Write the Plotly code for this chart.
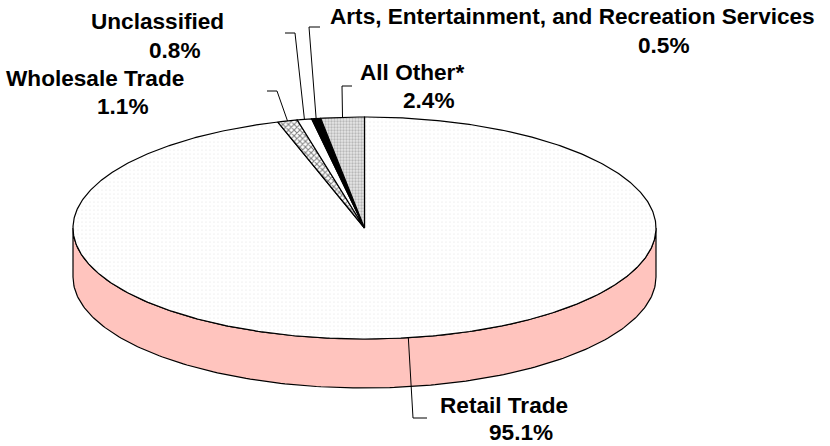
import numpy as np
import plotly.graph_objects as go

# ---- data ----
categories = ["Retail Trade", "Wholesale Trade", "Unclassified",
              "Arts, Entertainment, and Recreation Services", "All Other*"]
shares = [95.1, 1.1, 0.8, 0.5, 2.4]

# ---- styles ----
top_colors = ["#FFFFFF", "#FFFFFF", "#FFFFFF", "#000000", "#FFFFFF"]
side_colors = ["#FFC4BE", "#888888", "#EEEEEE", "#000000", "#BBBBBB"]
patterns = [
    dict(shape=".", fgcolor="#E2E2E2", bgcolor="#FFFFFF", size=4, solidity=0.15),
    dict(shape="x", fgcolor="#000000", bgcolor="#FFFFFF", size=4, solidity=0.45),
    None,
    None,
    dict(shape=".", fgcolor="#8A8A8A", bgcolor="#E6E6E6", size=3, solidity=0.45),
]

# pie geometry (pixels)
CX, CY, RX, RY, DEPTH = 364.5, 228.0, 291.5, 111.0, 49.0
W, H = 830, 446

# label layout: (line1 center x, line1 y, line2 center x, line2 y)
label_pos = [
    (504, 405, 521, 432),
    (95, 78, 123, 106),
    (157, 21, 175, 50),
    (572, 16, 664, 45),
    (412, 72, 429, 100),
]
# leader line elbow and end points
leader_elbow = [(413, 418), (277, 91), (295, 33), (309, 27), (342, 86)]
leader_end = [(427, 418), (267, 91), (285, 33), (320, 27), (352, 86)]

total = sum(shares)
fracs = [s / total for s in shares]
starts = np.concatenate([[0.0], np.cumsum(fracs)[:-1]]) * 2 * np.pi
ends = np.cumsum(fracs) * 2 * np.pi


def pt(t, dy=0.0):
    return CX + RX * np.sin(t), CY - RY * np.cos(t) + dy


fig = go.Figure()

# side walls (front half only)
for i in range(len(shares)):
    a0 = max(starts[i], np.pi / 2)
    a1 = min(ends[i], 3 * np.pi / 2)
    if a1 <= a0:
        continue
    t = np.linspace(a0, a1, 200)
    xt, yt = pt(t)
    xb, yb = pt(t[::-1], DEPTH)
    xs = np.concatenate([xt, xb, xt[:1]])
    ys = np.concatenate([yt, yb, yt[:1]])
    fig.add_trace(go.Scatter(x=xs, y=ys, mode="lines", fill="toself",
                             fillcolor=side_colors[i],
                             line=dict(color="#000000", width=1.2),
                             hoverinfo="skip", showlegend=False))

# top faces
for i in range(len(shares)):
    n = max(int(fracs[i] * 720), 4)
    t = np.linspace(starts[i], ends[i], n)
    xa, ya = pt(t)
    xs = np.concatenate([[CX], xa, [CX]])
    ys = np.concatenate([[CY], ya, [CY]])
    kw = {}
    if patterns[i] is not None:
        kw["fillpattern"] = patterns[i]
    fig.add_trace(go.Scatter(x=xs, y=ys, mode="lines", fill="toself",
                             fillcolor=top_colors[i],
                             line=dict(color="#000000", width=1.2),
                             hoverinfo="skip", showlegend=False, **kw))

# leader lines
for i in range(len(shares)):
    mid = (starts[i] + ends[i]) / 2
    px, py = pt(mid)
    ex, ey = leader_elbow[i]
    fx, fy = leader_end[i]
    fig.add_trace(go.Scatter(x=[px, ex, fx], y=[py, ey, fy], mode="lines",
                             line=dict(color="#000000", width=1),
                             hoverinfo="skip", showlegend=False))

font = dict(family="Liberation Sans, Arial, sans-serif", size=22.6, color="#000000")
for i, cat in enumerate(categories):
    x1, y1, x2, y2 = label_pos[i]
    fig.add_annotation(x=x1, y=y1, xref="x", yref="y", text=f"<b>{cat}</b>",
                       showarrow=False, font=font, xanchor="center", yanchor="middle")
    fig.add_annotation(x=x2, y=y2, xref="x", yref="y", text=f"<b>{shares[i]:.1f}%</b>",
                       showarrow=False, font=font, xanchor="center", yanchor="middle")

fig.update_layout(
    width=W, height=H, autosize=False,
    margin=dict(l=0, r=0, t=0, b=0),
    paper_bgcolor="#FFFFFF", plot_bgcolor="#FFFFFF",
    xaxis=dict(range=[0, W], visible=False, fixedrange=True),
    yaxis=dict(range=[H, 0], visible=False, fixedrange=True),
    showlegend=False,
)

fig.write_html("out.html", config={"displayModeBar": False},
               post_script="document.body.style.margin='0px';document.body.style.overflow='hidden';")
